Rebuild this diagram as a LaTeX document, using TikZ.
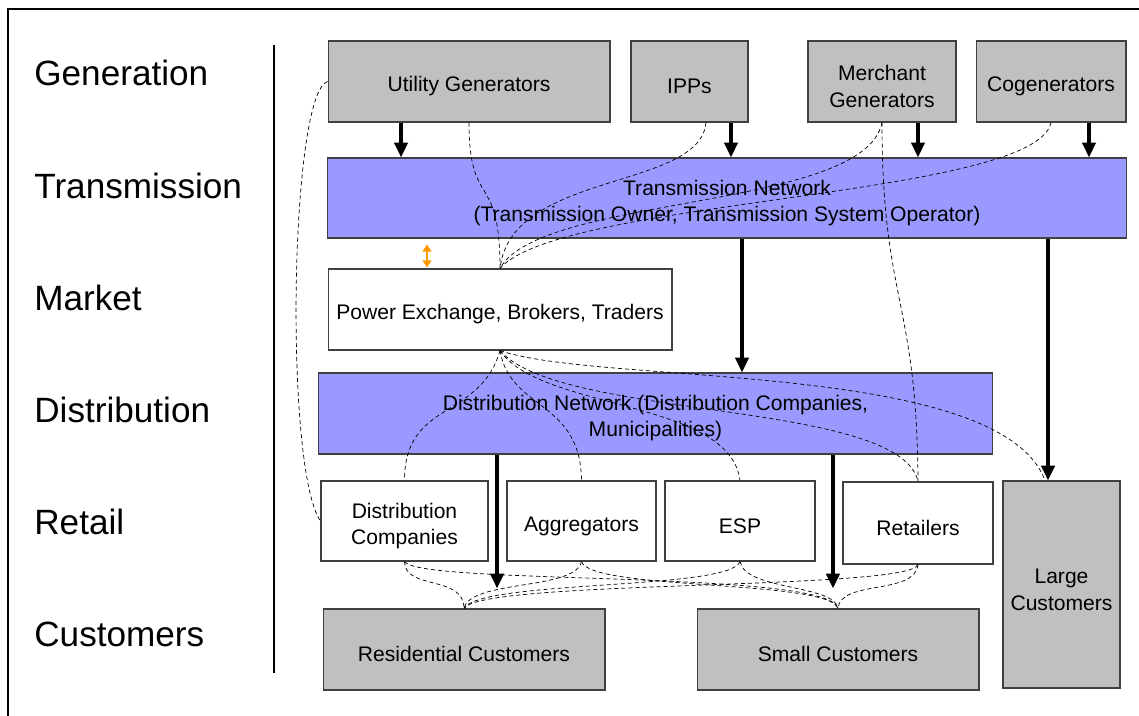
\documentclass[tikz,border=0pt]{standalone}
\usepackage{fontspec}
\setmainfont{Liberation Sans}
\usetikzlibrary{arrows.meta}
\definecolor{netblue}{RGB}{153,153,255}
\definecolor{boxgray}{RGB}{192,192,192}
\definecolor{pxorange}{RGB}{255,153,0}
\newcommand{\upgap}{\rule{0pt}{14.2pt}}
\begin{document}
\begin{tikzpicture}[x=0.02cm, y=-0.02cm,
    box/.style={rectangle, draw=black!75, line width=0.6pt, inner sep=0pt, align=center, font=\fontsize{12}{15}\selectfont},
    genbox/.style={box, fill=boxgray},
    netbox/.style={box, fill=netblue},
    retbox/.style={box, fill=white},
    layerlabel/.style={anchor=west, inner sep=0pt, font=\fontsize{20}{24}\selectfont},
    bigarrow/.style={-{Triangle[length=8.5pt,width=7.5pt]}, line width=2.3pt},
    contract/.style={line width=0.4pt, dash pattern=on 2.3pt off 1.7pt},
    tradearrow/.style={{Triangle[length=4pt,width=5pt]}-{Triangle[length=4pt,width=5pt]}, line width=1pt, pxorange},
]
\useasboundingbox (0,0) rectangle (1139,716);
% frame and divider
\draw[line width=0.8pt] (8,716) -- (8,9) -- (1139,9);
\draw[line width=0.6pt] (274,45) -- (274,673);

% layer labels
\node[layerlabel] (lgen) at (34,73) {Generation};
\node[layerlabel] (ltrans) at (34,186) {Transmission};
\node[layerlabel] (lmarket) at (34,298) {Market};
\node[layerlabel] (ldist) at (34,410) {Distribution};
\node[layerlabel] (lretail) at (34,522) {Retail};
\node[layerlabel] (lcust) at (34,634) {Customers};

% generation
\node[genbox, minimum width=5.64cm, minimum height=1.62cm] (util) at (469,81.5) {\upgap Utility Generators};
\node[genbox, minimum width=2.34cm, minimum height=1.62cm] (ipp) at (689.5,81.5) {\upgap IPPs};
\node[genbox, minimum width=2.96cm, minimum height=1.62cm] (merch) at (882,81.5) {\upgap Merchant\\Generators};
\node[genbox, minimum width=3.0cm, minimum height=1.62cm] (cogen) at (1051,81.5) {\upgap Cogenerators};
% transmission
\node[netbox, minimum width=16cm, minimum height=1.6cm] (trans) at (727,198) {\upgap Transmission Network\\(Transmission Owner, Transmission System Operator)};
% market
\node[retbox, minimum width=6.88cm, minimum height=1.62cm] (px) at (500,309.5) {\upgap Power Exchange, Brokers, Traders};
% distribution
\node[netbox, minimum width=13.5cm, minimum height=1.62cm] (dist) at (655.5,413.5) {\upgap Distribution Network (Distribution Companies,\\Municipalities)};
% retail
\node[retbox, minimum width=3.34cm, minimum height=1.6cm] (dco) at (404.5,521) {\upgap Distribution\\Companies};
\node[retbox, minimum width=2.98cm, minimum height=1.6cm] (agg) at (581.5,521) {\upgap Aggregators};
\node[retbox, minimum width=3.0cm, minimum height=1.6cm] (esp) at (740,521) {\upgap ESP};
\node[retbox, minimum width=3.0cm, minimum height=1.64cm] (ret) at (918,523) {\upgap Retailers};
% customers
\node[genbox, minimum width=2.34cm, minimum height=4.14cm] (large) at (1061.5,584.5) {\upgap Large\\Customers};
\node[genbox, minimum width=5.64cm, minimum height=1.62cm] (resid) at (464,649.5) {\upgap Residential Customers};
\node[genbox, minimum width=5.64cm, minimum height=1.62cm] (small) at (838,649.5) {\upgap Small Customers};

% contracts
\draw[contract] (util.west) .. controls +(-38,13) and +(-36,-51) .. (dco.west);
\draw[contract] (util.south) .. controls +(0,88) and +(0,-99) .. (px.north);
\draw[contract] ([xshift=0.33cm]ipp.south) .. controls +(-6,68) and +(11,-98) .. (px.north);
\draw[contract] (merch.south) .. controls +(-17,88) and +(40,-74) .. (px.north);
\draw[contract] (cogen.south) .. controls +(-15,75) and +(60,-70) .. (px.north);
\draw[contract] (merch.south) .. controls +(0,178) and +(-1,-182) .. (ret.north);
\draw[contract] (px.south) .. controls +(-20,70) and +(0,-81) .. (dco.north);
\draw[contract] (px.south) .. controls +(10,60) and +(-1,-81) .. (agg.north);
\draw[contract] (px.south) .. controls +(40,60) and +(-10,-81) .. (esp.north);
\draw[contract] (px.south) .. controls +(60,70) and +(-18,-82) .. (ret.north);
\draw[contract] (px.south) .. controls +(100,35) and +(-45,-121) .. ([xshift=-0.33cm]large.north);
\draw[contract] (dco.south) .. controls +(0,29) and +(0,-34) .. (resid.north);
\draw[contract] (dco.south) .. controls +(15,24) and +(-8,-39) .. (small.north);
\draw[contract] (agg.south) .. controls +(-6,29) and +(6,-29) .. (resid.north);
\draw[contract] (agg.south) .. controls +(8,29) and +(-8,-29) .. (small.north);
\draw[contract] (esp.south) .. controls +(-10,29) and +(16,-29) .. (resid.north);
\draw[contract] (esp.south) .. controls +(5,29) and +(-3,-24) .. (small.north);
\draw[contract] (ret.south) .. controls +(-8,26) and +(16,-29) .. (resid.north);
\draw[contract] (ret.south) .. controls +(-3,31) and +(2,-29) .. (small.north);

% power flows
\draw[bigarrow] ([xshift=-1.36cm]util.south) -- ([xshift=-1.36cm]util.south |- trans.north);
\draw[bigarrow] ([xshift=0.83cm]ipp.south) -- ([xshift=0.83cm]ipp.south |- trans.north);
\draw[bigarrow] ([xshift=0.72cm]merch.south) -- ([xshift=0.72cm]merch.south |- trans.north);
\draw[bigarrow] ([xshift=0.76cm]cogen.south) -- ([xshift=0.76cm]cogen.south |- trans.north);
\draw[bigarrow] ([xshift=0.3cm]trans.south) -- ([xshift=0.3cm]trans.south |- dist.north);
\draw[bigarrow] ([xshift=-0.27cm]large.north |- trans.south) -- ([xshift=-0.27cm]large.north);
\draw[bigarrow] ([xshift=-3.17cm]dist.south) -- ++(0,134);
\draw[bigarrow] ([xshift=3.55cm]dist.south) -- ++(0,134);
\draw[tradearrow, shorten <=0.6pt, shorten >=3.4pt] ([xshift=-1.46cm]px.north) -- ([xshift=-1.46cm]px.north |- trans.south);
\end{tikzpicture}
\end{document}
